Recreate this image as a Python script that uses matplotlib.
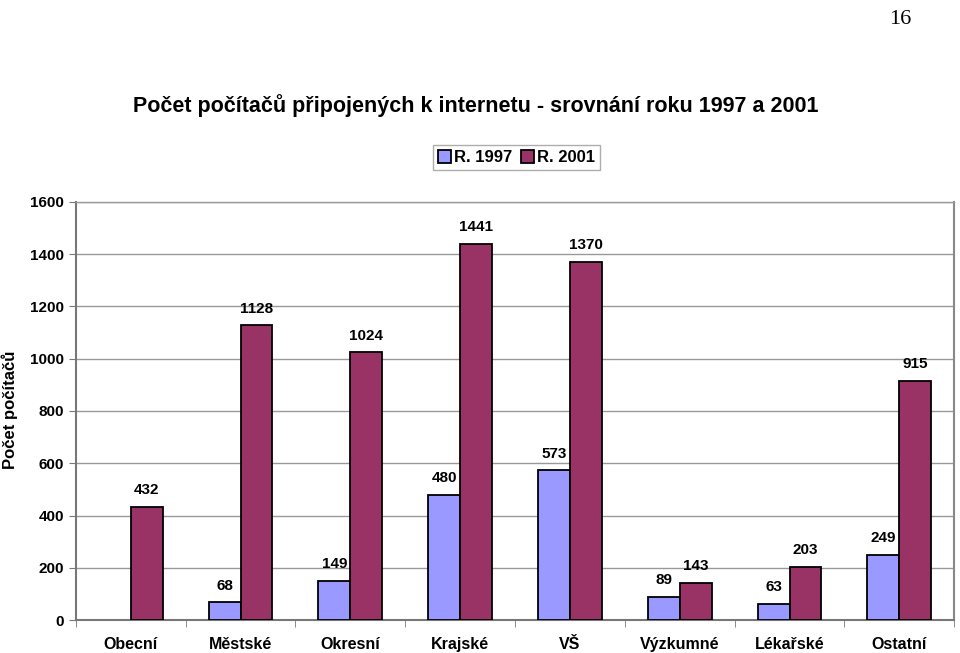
import numpy as np
import matplotlib
matplotlib.use('Agg')
import matplotlib.pyplot as plt

# Data
categories = ['Obecní', 'Městské', 'Okresní', 'Krajské', 'VŠ', 'Výzkumné', 'Lékařské', 'Ostatní']
r1997 = [np.nan, 68, 149, 480, 573, 89, 63, 249]
r2001 = [432, 1128, 1024, 1441, 1370, 143, 203, 915]
y_ticks = [0, 200, 400, 600, 800, 1000, 1200, 1400, 1600]

plt.rcParams['font.family'] = ['Liberation Sans', 'DejaVu Sans']
plt.rcParams['font.weight'] = 'bold'

fig = plt.figure(figsize=(9.6, 6.53), dpi=100)
ax = fig.add_axes([0.079, 0.0505, 0.915, 0.6402])

x = np.arange(len(categories))
w = 0.29
c97 = '#9999FF'
c01 = '#993366'

b1 = ax.bar(x - w / 2, r1997, w, color=c97, edgecolor='black', linewidth=1.3, label='R. 1997', zorder=3)
b2 = ax.bar(x + w / 2, r2001, w, color=c01, edgecolor='black', linewidth=1.3, label='R. 2001', zorder=3)

# value labels (no label for missing 1997 Obecní)
for xi, v in zip(x, r1997):
    if not np.isnan(v):
        ax.annotate(str(int(v)), (xi - w / 2, v), xytext=(0, 7), textcoords='offset points',
                    ha='center', va='bottom', fontsize=11, fontweight='bold')
for xi, v in zip(x, r2001):
    ax.annotate(str(v), (xi + w / 2, v), xytext=(0, 7), textcoords='offset points',
                ha='center', va='bottom', fontsize=11, fontweight='bold')

ax.set_xlim(-0.5, len(categories) - 0.5)
ax.set_ylim(0, 1600)
ax.set_yticks(y_ticks)
ax.set_yticklabels([str(t) for t in y_ticks], fontsize=11, fontweight='bold')
ax.yaxis.grid(True, color='#999999', linewidth=1, zorder=0)
ax.set_axisbelow(True)

# category labels centred, tick marks between categories
ax.set_xticks(x)
ax.set_xticklabels(categories, fontsize=11.5, fontweight='bold')
ax.tick_params(axis='x', length=0, pad=12)
ax.set_xticks(np.arange(-0.5, len(categories)), minor=True)
ax.tick_params(axis='x', which='minor', length=5, color='#777777')
ax.tick_params(axis='y', length=5, color='#777777')

ax.spines['top'].set_color('#999999')
ax.spines['top'].set_linewidth(1)
ax.spines['right'].set_color('#888888')
ax.spines['right'].set_linewidth(1.5)
ax.spines['left'].set_color('#777777')
ax.spines['left'].set_linewidth(1.5)
ax.spines['bottom'].set_color('#777777')
ax.spines['bottom'].set_linewidth(1.5)

fig.text(0.0105, 0.372, 'Počet počítačů', rotation=90, ha='center', va='center',
         fontsize=12, fontweight='bold')

fig.text(0.496, 0.839, 'Počet počítačů připojených k internetu - srovnání roku 1997 a 2001',
         ha='center', va='center', fontsize=15.5, fontweight='bold')

leg = fig.legend(handles=[b1, b2], loc='center', bbox_to_anchor=(0.538, 0.759), ncol=2,
                 fontsize=12, frameon=True, fancybox=False, handlelength=0.8, handleheight=0.8,
                 handletextpad=0.2, columnspacing=0.5, borderpad=0.3)
leg.get_frame().set_edgecolor('#999999')
leg.get_frame().set_linewidth(1)

fig.text(0.938, 0.984, '16', ha='center', va='top', fontsize=16,
         family=['Liberation Serif', 'DejaVu Serif'], fontweight='normal')

plt.savefig('out.png', dpi=100)
plt.close()
